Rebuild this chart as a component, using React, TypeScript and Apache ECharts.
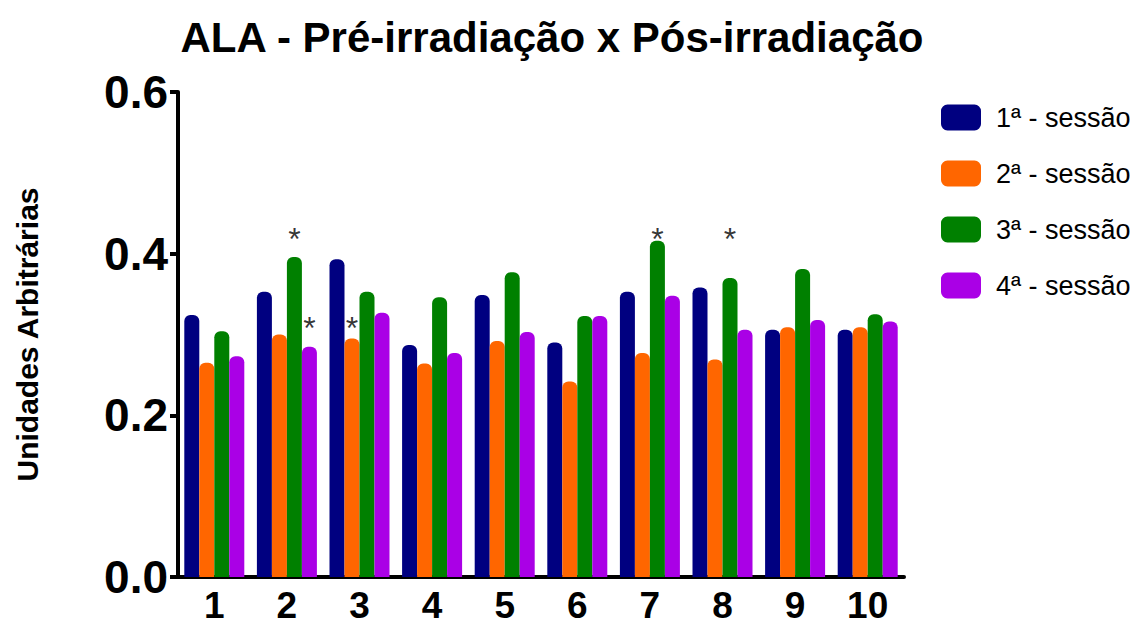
import React, { useEffect, useRef } from "react";
import * as echarts from "echarts";

const categories = ["1", "2", "3", "4", "5", "6", "7", "8", "9", "10"];
const seriesNames = ["1ª - sessão", "2ª - sessão", "3ª - sessão", "4ª - sessão"];
const session1 = [0.324, 0.353, 0.393, 0.287, 0.349, 0.290, 0.353, 0.358, 0.306, 0.306];
const session2 = [0.265, 0.300, 0.295, 0.264, 0.292, 0.242, 0.277, 0.269, 0.309, 0.309];
const session3 = [0.304, 0.396, 0.353, 0.346, 0.377, 0.323, 0.416, 0.370, 0.381, 0.325];
const session4 = [0.273, 0.285, 0.327, 0.277, 0.303, 0.323, 0.348, 0.306, 0.318, 0.316];
const colors = ["#000080", "#FF6600", "#008000", "#AA00E6"];
// significance markers: [category index, y value], per session
const starsSession2 = [[2, 0.316]];
const starsSession3 = [[1, 0.426], [6, 0.426], [7, 0.426]];
const starsSession4 = [[1, 0.316]];
const yTicks = [0, 0.2, 0.4, 0.6];

export default function App() {
  const ref = useRef<HTMLDivElement>(null);
  useEffect(() => {
    if (!ref.current) return;
    const chart = echarts.init(ref.current, null, { renderer: "svg" });
    const font = "Liberation Sans, Arial, sans-serif";
    const barW = 15;
    const values = [session1, session2, session3, session4];
    const barSeries = values.map((d, i) => ({
      name: seriesNames[i],
      type: "bar",
      data: d,
      barWidth: barW,
      barGap: "0%",
      itemStyle: { color: colors[i], borderRadius: [6, 6, 0, 0] },
    }));
    const starSeries = [
      { data: starsSession2, idx: 1 },
      { data: starsSession3, idx: 2 },
      { data: starsSession4, idx: 3 },
    ].map((s) => ({
      type: "scatter",
      data: s.data,
      symbolSize: 0,
      silent: true,
      z: 5,
      label: {
        show: true,
        formatter: "*",
        position: "inside",
        offset: [(s.idx - 1.5) * barW, 6],
        color: "#000",
        fontSize: 32,
        fontFamily: font,
      },
    }));
    chart.setOption({
      animation: false,
      backgroundColor: "#fff",
      title: {
        text: "ALA - Pré-irradiação x Pós-irradiação",
        left: 547,
        textAlign: "center",
        top: 11,
        textStyle: { fontSize: 42, fontWeight: "bold", color: "#000", fontFamily: font },
      },
      legend: {
        data: seriesNames,
        orient: "vertical",
        left: 941,
        top: 104,
        padding: 0,
        itemWidth: 40,
        itemHeight: 26,
        itemGap: 29,
        icon: "roundRect",
        textStyle: { fontSize: 27, color: "#000", fontFamily: font, padding: [0, 0, 0, 10] },
      },
      grid: { left: 178, right: 230, top: 92, bottom: 53, containLabel: false },
      xAxis: {
        type: "category",
        data: categories,
        axisLine: { lineStyle: { color: "#000", width: 4 } },
        axisTick: { alignWithLabel: true, length: 7, lineStyle: { color: "#000", width: 4 } },
        axisLabel: { fontSize: 37, fontWeight: "bold", color: "#000", fontFamily: font, margin: 10 },
        barCategoryGap: "17%",
      },
      yAxis: {
        type: "value",
        min: yTicks[0],
        max: yTicks[yTicks.length - 1],
        interval: 0.2,
        name: "Unidades Arbitrárias",
        nameLocation: "middle",
        nameGap: 136,
        nameTextStyle: { fontSize: 30, fontWeight: "bold", color: "#000", fontFamily: font },
        axisLine: { show: true, lineStyle: { color: "#000", width: 4 } },
        axisTick: { show: true, length: 8, lineStyle: { color: "#000", width: 4 } },
        splitLine: { show: false },
        axisLabel: {
          fontSize: 46,
          fontWeight: "bold",
          color: "#000",
          fontFamily: font,
          margin: 10,
          formatter: (v: number) => v.toFixed(1),
        },
      },
      series: [...barSeries, ...starSeries],
    });
    return () => chart.dispose();
  }, []);
  return <div ref={ref} style={{ width: 1134, height: 630, position: "absolute", left: 0, top: 0 }} />;
}
